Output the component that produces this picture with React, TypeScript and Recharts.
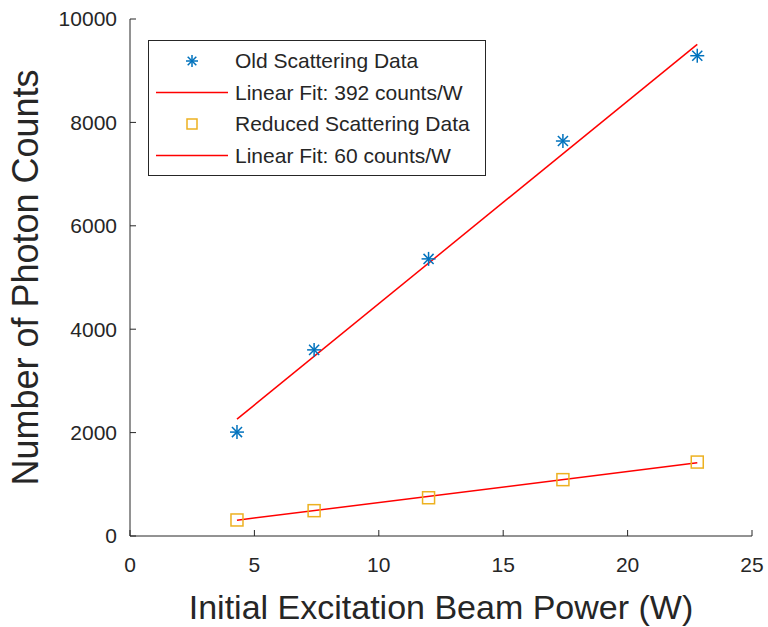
import { ComposedChart, Scatter, XAxis, YAxis, Legend, Label } from 'recharts'

// excitation power (W) and photon counts per run
const powerW = [4.3, 7.4, 12, 17.4, 22.8]
const oldCounts = [2010, 3600, 5360, 7640, 9290]
const reducedCounts = [310, 490, 740, 1090, 1430]

// end points of the least-squares fits
const fitPowerW = [4.3, 22.8]
const oldFit = [2260, 9510] // 392 counts/W
const reducedFit = [305, 1415] // 60 counts/W

const xTicks = [0, 5, 10, 15, 20, 25]
const yTicks = [0, 2000, 4000, 6000, 8000, 10000]

const toPoints = (xs: number[], ys: number[]) => xs.map((x, i) => ({ x, y: ys[i] }))

const oldData = toPoints(powerW, oldCounts)
const reducedData = toPoints(powerW, reducedCounts)
const oldFitData = toPoints(fitPowerW, oldFit)
const reducedFitData = toPoints(fitPowerW, reducedFit)

const INK = '#262626'
const BLUE = '#0072BD'
const GOLD = '#EDB120'
const RED = '#FF0000'
const FONT = '"Liberation Sans", Arial, Helvetica, sans-serif'

function Asterisk({ cx, cy, r = 7 }: { cx?: number; cy?: number; r?: number }) {
  if (cx == null || cy == null) return <g />
  const d = r * 0.72
  return (
    <g stroke={BLUE} strokeWidth={1.5}>
      <line x1={cx - r} y1={cy} x2={cx + r} y2={cy} />
      <line x1={cx} y1={cy - r} x2={cx} y2={cy + r} />
      <line x1={cx - d} y1={cy - d} x2={cx + d} y2={cy + d} />
      <line x1={cx - d} y1={cy + d} x2={cx + d} y2={cy - d} />
    </g>
  )
}

function OpenSquare({ cx, cy, s = 12 }: { cx?: number; cy?: number; s?: number }) {
  if (cx == null || cy == null) return <g />
  return <rect x={cx - s / 2} y={cy - s / 2} width={s} height={s} fill="none" stroke={GOLD} strokeWidth={1.5} />
}

const NoDot = () => <g />

const legendRows = [
  { label: 'Old Scattering Data', kind: 'star' },
  { label: 'Linear Fit: 392 counts/W', kind: 'line' },
  { label: 'Reduced Scattering Data', kind: 'square' },
  { label: 'Linear Fit: 60 counts/W', kind: 'line' },
]

function FitLegend() {
  return (
    <svg width={338} height={136} style={{ display: 'block' }}>
      <rect x={0.5} y={0.5} width={337} height={135} fill="#fff" stroke={INK} strokeWidth={1} />
      {legendRows.map((row, i) => {
        const cy = 21 + i * 31.5
        return (
          <g key={row.label}>
            {row.kind === 'line' && <line x1={8} x2={80} y1={cy} y2={cy} stroke={RED} strokeWidth={1.5} />}
            {row.kind === 'star' && <Asterisk cx={44} cy={cy} r={6} />}
            {row.kind === 'square' && <OpenSquare cx={44} cy={cy} s={10} />}
            <text x={87} y={cy} dy="0.35em" fontSize={21} fill={INK} fontFamily={FONT}>
              {row.label}
            </text>
          </g>
        )
      })}
    </svg>
  )
}

const tickStyle = { fontSize: 21, fill: INK, fontFamily: FONT }

export default function App() {
  return (
    <div style={{ position: 'absolute', left: 0, top: 0, width: 768, height: 627, background: '#fff' }}>
      <ComposedChart width={768} height={627} margin={{ top: 19, right: 16, bottom: 0, left: 0 }}>
        <XAxis
          xAxisId="b"
          type="number"
          dataKey="x"
          domain={[0, 25]}
          ticks={xTicks}
          height={91}
          tickSize={-6}
          tickMargin={27}
          tick={tickStyle}
          stroke={INK}
          allowDataOverflow
        >
          <Label
            content={({ viewBox }: any) => (
              <text
                x={viewBox.x + viewBox.width / 2}
                y={viewBox.y + 83}
                textAnchor="middle"
                fontSize={34}
                fill={INK}
                fontFamily={FONT}
              >
                Initial Excitation Beam Power (W)
              </text>
            )}
          />
        </XAxis>
        <XAxis xAxisId="t" orientation="top" type="number" domain={[0, 25]} ticks={xTicks} height={0} tickSize={-6} tick={false} stroke={INK} allowDataOverflow />
        <YAxis
          yAxisId="l"
          type="number"
          domain={[0, 10000]}
          ticks={yTicks}
          width={130}
          tickSize={-6}
          tickMargin={19}
          tick={tickStyle}
          stroke={INK}
          allowDataOverflow
        >
          <Label
            content={({ viewBox }: any) => {
              const cx = viewBox.x + 25
              const cy = viewBox.y + viewBox.height / 2
              return (
                <text
                  x={cx}
                  y={cy}
                  transform={`rotate(-90, ${cx}, ${cy})`}
                  textAnchor="middle"
                  dominantBaseline="central"
                  fontSize={36}
                  fill={INK}
                  fontFamily={FONT}
                >
                  Number of Photon Counts
                </text>
              )
            }}
          />
        </YAxis>
        <YAxis yAxisId="r" orientation="right" type="number" domain={[0, 10000]} ticks={yTicks} width={0} tickSize={-6} tick={false} stroke={INK} allowDataOverflow />

        <Scatter xAxisId="b" yAxisId="l" name="Linear Fit: 392 counts/W" data={oldFitData} dataKey="y" line={{ stroke: RED, strokeWidth: 1.5 }} lineType="joint" shape={NoDot} isAnimationActive={false} />
        <Scatter xAxisId="b" yAxisId="l" name="Linear Fit: 60 counts/W" data={reducedFitData} dataKey="y" line={{ stroke: RED, strokeWidth: 1.5 }} lineType="joint" shape={NoDot} isAnimationActive={false} />
        <Scatter xAxisId="b" yAxisId="l" name="Old Scattering Data" data={oldData} dataKey="y" shape={(p: any) => <Asterisk cx={p.cx} cy={p.cy} />} isAnimationActive={false} />
        <Scatter xAxisId="b" yAxisId="l" name="Reduced Scattering Data" data={reducedData} dataKey="y" shape={(p: any) => <OpenSquare cx={p.cx} cy={p.cy} />} isAnimationActive={false} />

        {/* centred + vertical so no margin gets reserved; placed by wrapperStyle */}
        <Legend
          layout="vertical"
          align="center"
          verticalAlign="middle"
          wrapperStyle={{ left: 148, top: 40, width: 338 }}
          content={() => <FitLegend />}
        />
      </ComposedChart>
    </div>
  )
}
